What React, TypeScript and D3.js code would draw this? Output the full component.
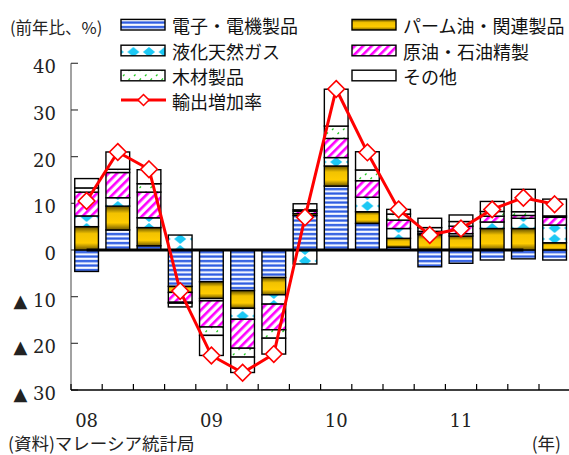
import React from "react";
import * as d3 from "d3";

const quarters = [
  "2008Q1", "2008Q2", "2008Q3", "2008Q4",
  "2009Q1", "2009Q2", "2009Q3", "2009Q4",
  "2010Q1", "2010Q2", "2010Q3", "2010Q4",
  "2011Q1", "2011Q2", "2011Q3", "2011Q4",
];
const yearLabels = ["08", "09", "10", "11"];
const yearQuarters = ["2008Q1", "2009Q1", "2010Q1", "2011Q1"];
const yTicks = [40, 30, 20, 10, 0, -10, -20, -30];

const seriesNames = ["電子・電機製品", "パーム油・関連製品", "液化天然ガス", "原油・石油精製", "木材製品", "その他"];
const lineName = "輸出増加率";

const electronics = [-4.6, 4.3, 0.9, -7.8, -6.8, -8.7, -5.9, 7.4, 13.7, 5.7, 0.6, -3.6, -2.85, -2.15, -1.9, -2.15];
const palmOil = [5.0, 5.1, 3.9, -1.3, -3.6, -3.8, -3.7, 0.4, 4.3, 2.5, 1.9, 3.3, 3.0, 4.6, 4.6, 1.55];
const lng = [2.3, 1.8, 2.1, 3.2, -0.5, -2.35, -2.0, -3.0, 1.8, 3.1, 2.1, 0.3, 0.5, 1.4, 2.2, 3.8];
const crudeOil = [5.1, 5.4, 5.5, -2.1, -5.6, -6.2, -5.5, 0.5, 4.1, 3.55, 1.8, 0.4, 1.6, 1.25, 0.6, 1.65];
const wood = [0.9, 0.7, 1.8, -0.2, -1.8, -1.9, -1.8, 0.3, 2.65, 2.3, 1.3, 0.8, 1.0, 1.0, 0.8, 0.3];
const others = [2.0, 3.7, 3.0, -0.8, -4.3, -3.3, -3.4, 1.3, 7.9, 3.9, 1.0, 2.0, 1.4, 2.15, 4.8, 3.6];
const exportGrowth = [10.5, 21.0, 17.3, -8.8, -22.6, -26.3, -22.3, 7.0, 34.5, 20.9, 8.7, 3.2, 4.6, 8.7, 11.2, 9.8];

const keys = ["electronics", "palm", "lng", "crude", "wood", "other"];
const fills: Record<string, string> = {
  electronics: "url(#pElec)",
  palm: "url(#gPalm)",
  lng: "url(#pLng)",
  crude: "url(#pCrude)",
  wood: "url(#pWood)",
  other: "#ffffff",
};

const JP = "'Noto Sans CJK JP', 'Noto Sans', sans-serif";
const SERIF = "'DejaVu Serif', 'Liberation Serif', serif";

function Diamond({ cx, cy, r, sw }: { cx: number; cy: number; r: number; sw: number }) {
  return (
    <path
      d={`M${cx},${cy - r}L${cx + r},${cy}L${cx},${cy + r}L${cx - r},${cy}Z`}
      fill="#ffffff"
      stroke="#ff0000"
      strokeWidth={sw}
    />
  );
}

export default function App() {
  const W = 569;
  const H = 455;
  const left = 71;
  const x = d3.scaleBand<string>().domain(quarters).range([left, left + 31.2 * 16]).padding(0);
  const y = d3.scaleLinear().domain([-30, 40]).range([390, 63.3]);
  const bw = x.bandwidth();
  const barW = bw * 0.76;
  const cx = (q: string) => (x(q) as number) + bw / 2;

  const rows = quarters.map((q, i) => ({
    q,
    electronics: electronics[i],
    palm: palmOil[i],
    lng: lng[i],
    crude: crudeOil[i],
    wood: wood[i],
    other: others[i],
  }));
  const stacked = d3
    .stack<any>()
    .keys(keys)
    .offset(d3.stackOffsetDiverging)(rows);

  const linePath = d3
    .line<number>()
    .x((_, i) => cx(quarters[i]))
    .y((d) => y(d))(exportGrowth) as string;

  const legendItems = [
    { key: "electronics", name: seriesNames[0], lx: 121, ly: 24.7 },
    { key: "palm", name: seriesNames[1], lx: 352, ly: 24.7 },
    { key: "lng", name: seriesNames[2], lx: 121, ly: 50.5 },
    { key: "crude", name: seriesNames[3], lx: 352, ly: 50.5 },
    { key: "wood", name: seriesNames[4], lx: 121, ly: 75.5 },
    { key: "other", name: seriesNames[5], lx: 352, ly: 75.5 },
  ];

  const xRight = left + 31.2 * 16;
  const serifStyle = { fontFamily: SERIF };

  return (
    <svg
      width={W}
      height={H}
      style={{ position: "absolute", left: 0, top: 0, background: "#fff" }}
    >
      <defs>
        <linearGradient id="gElecStripe" x1="0" y1="0" x2="0" y2="1">
          <stop offset="0" stopColor="#ffffff" />
          <stop offset="0.22" stopColor="#4a74e8" />
          <stop offset="0.5" stopColor="#1f4fdc" />
          <stop offset="0.78" stopColor="#4a74e8" />
          <stop offset="1" stopColor="#ffffff" />
        </linearGradient>
        <pattern id="pElec" patternUnits="userSpaceOnUse" width="10" height="4.5" y="250">
          <rect x="0" y="0" width="10" height="4.5" fill="#ffffff" />
          <rect x="0" y="0.3" width="10" height="3.4" fill="url(#gElecStripe)" />
        </pattern>
        <linearGradient id="gPalm" x1="0" y1="0" x2="0" y2="1">
          <stop offset="0" stopColor="#5e4c00" />
          <stop offset="0.3" stopColor="#f2c200" />
          <stop offset="0.7" stopColor="#ffcc00" />
          <stop offset="1" stopColor="#6e5800" />
        </linearGradient>
        <pattern id="pLng" patternUnits="userSpaceOnUse" x={left} y="250" width={bw / 2} height="11">
          <rect x="0" y="0" width={bw / 2} height="11" fill="#ffffff" />
          {[
            [0, 0],
            [bw / 2, 0],
            [0, 11],
            [bw / 2, 11],
          ].map(([px, py], i) => (
            <path
              key={i}
              d={`M${px},${py - 5}L${px + 6},${py}L${px},${py + 5}L${px - 6},${py}Z`}
              fill="#1cc8f4"
            />
          ))}
        </pattern>
        <pattern id="pCrude" patternUnits="userSpaceOnUse" width="6" height="6" patternTransform="rotate(45)">
          <rect x="0" y="0" width="6" height="6" fill="#ffffff" />
          <rect x="0" y="0" width="2.6" height="6" fill="#ff00ff" />
        </pattern>
        <pattern id="pWood" patternUnits="userSpaceOnUse" width="11" height="9">
          <rect x="0" y="0" width="11" height="9" fill="#ffffff" />
          <path d="M2,4L3.5,2.5M7.5,8L9,6.5" stroke="#22cc22" strokeWidth="1.3" />
        </pattern>
      </defs>

      {/* y axis */}
      <line x1={left} x2={left} y1={y(40)} y2={y(-30)} stroke="#707070" strokeWidth={1.3} />
      {yTicks.map((t) => (
        <g key={t}>
          <line x1={left} x2={left + 7} y1={y(t)} y2={y(t)} stroke="#404040" strokeWidth={1.2} />
          <text
            x={56}
            y={y(t) + 3.5}
            textAnchor="end"
            dominantBaseline="central"
            style={serifStyle}
            fontSize={18}
            fill="#222"
          >
            {t < 0 ? `▲ ${-t}` : `${t}`}
          </text>
        </g>
      ))}

      {/* x axis */}
      <line x1={left} x2={xRight} y1={y(-30)} y2={y(-30)} stroke="#000" strokeWidth={1.3} />
      {quarters.map((q) => (
        <line
          key={q}
          x1={x(q) as number}
          x2={x(q) as number}
          y1={y(-30)}
          y2={y(-30) - 6}
          stroke="#000"
          strokeWidth={1.2}
        />
      ))}
      {yearLabels.map((lab, i) => (
        <text
          key={lab}
          x={cx(yearQuarters[i])}
          y={420.5}
          textAnchor="middle"
          dominantBaseline="central"
          style={serifStyle}
          fontSize={18}
          fill="#222"
        >
          {lab}
        </text>
      ))}

      {/* bars */}
      {stacked.map((s) => (
        <g key={s.key}>
          {s.map((d, i) => {
            const y0 = y(d[0]);
            const y1 = y(d[1]);
            const top = Math.min(y0, y1);
            const h = Math.abs(y0 - y1);
            if (h < 0.01) return null;
            return (
              <rect
                key={i}
                x={cx(quarters[i]) - barW / 2}
                y={top}
                width={barW}
                height={h}
                fill={fills[s.key]}
                stroke="#000"
                strokeWidth={1.4}
              />
            );
          })}
        </g>
      ))}

      {/* zero line */}
      <line
        x1={cx(quarters[0])}
        x2={cx(quarters[14])}
        y1={y(0)}
        y2={y(0)}
        stroke="#000"
        strokeWidth={3}
      />

      {/* growth line */}
      <path d={linePath} fill="none" stroke="#ff0000" strokeWidth={3} strokeLinejoin="round" />
      {exportGrowth.map((v, i) => (
        <Diamond key={i} cx={cx(quarters[i])} cy={y(v)} r={8.3} sw={1.6} />
      ))}

      {/* legend */}
      <text x={10} y={27} dominantBaseline="central" fontFamily={JP} fontSize={16.5} fill="#222">
        (前年比、%)
      </text>
      {legendItems.map((it) => (
        <g key={it.key}>
          <rect
            x={it.lx}
            y={it.ly - 5.3}
            width={44}
            height={10.6}
            fill={fills[it.key]}
            stroke="#000"
            strokeWidth={1.4}
          />
          <text
            x={it.lx + 51}
            y={it.ly + 0.5}
            dominantBaseline="central"
            fontFamily={JP}
            fontSize={18}
            fill="#111"
          >
            {it.name}
          </text>
        </g>
      ))}
      <line x1={121} x2={166} y1={100} y2={100} stroke="#ff0000" strokeWidth={3} />
      <Diamond cx={143.5} cy={100} r={5.5} sw={1.5} />
      <text x={172} y={101} dominantBaseline="central" fontFamily={JP} fontSize={18} fill="#111">
        {lineName}
      </text>

      {/* footer */}
      <text x={8} y={442} dominantBaseline="central" fontFamily={JP} fontSize={17.5} fill="#222">
        (資料)マレーシア統計局
      </text>
      <text x={561} y={442} textAnchor="end" dominantBaseline="central" fontFamily={JP} fontSize={17.5} fill="#222">
        (年)
      </text>
    </svg>
  );
}
